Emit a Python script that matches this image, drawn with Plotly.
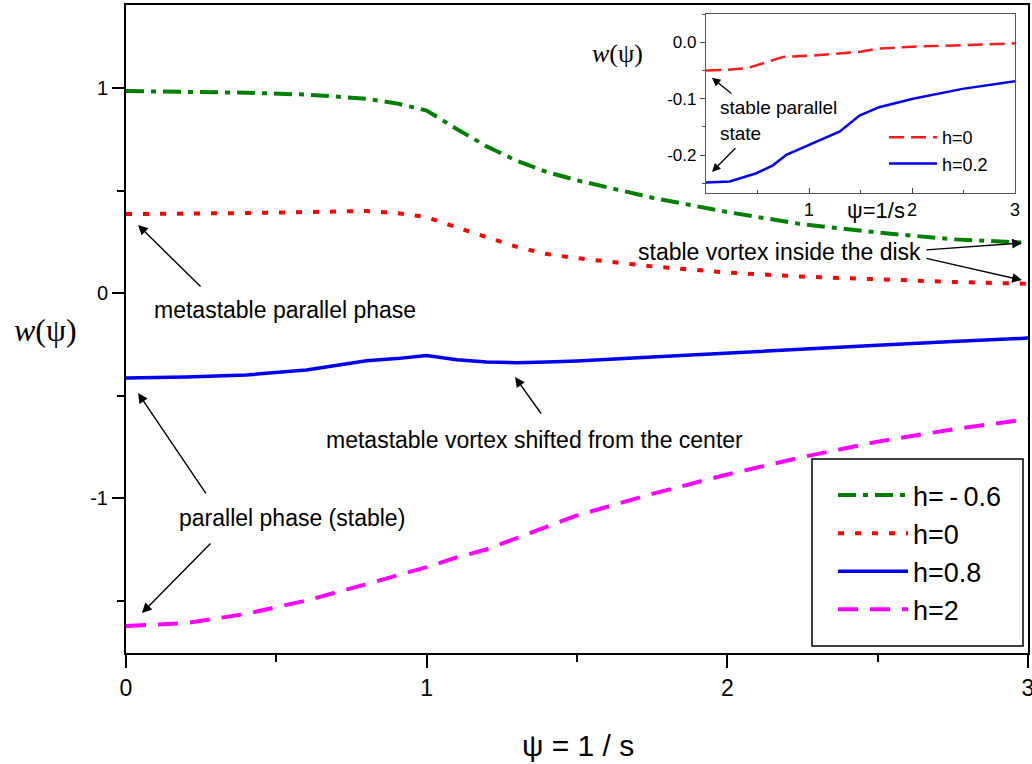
import plotly.graph_objects as go

# ---------------- data ----------------
x_main = [0, 0.2, 0.4, 0.6, 0.8, 0.9, 1.0, 1.1, 1.2, 1.3, 1.4, 1.5, 1.75, 2.0, 2.25, 2.5, 2.75, 3.0]
w_h_m06 = [0.985, 0.983, 0.977, 0.968, 0.948, 0.925, 0.89, 0.80, 0.715, 0.645, 0.59, 0.55, 0.465, 0.395, 0.335, 0.295, 0.262, 0.245]
w_h_0 = [0.385, 0.386, 0.39, 0.395, 0.40, 0.39, 0.37, 0.32, 0.27, 0.225, 0.19, 0.17, 0.13, 0.10, 0.08, 0.065, 0.054, 0.045]
w_h_08 = [-0.415, -0.41, -0.40, -0.375, -0.33, -0.32, -0.305, -0.325, -0.337, -0.34, -0.337, -0.332, -0.312, -0.292, -0.272, -0.255, -0.237, -0.22]
w_h_2 = [-1.624, -1.61, -1.565, -1.50, -1.42, -1.38, -1.337, -1.29, -1.25, -1.195, -1.14, -1.085, -0.98, -0.885, -0.80, -0.725, -0.665, -0.615]

x_in_h0 = [0, 0.2, 0.4, 0.55, 0.75, 1.0, 1.25, 1.5, 1.68, 2.0, 2.5, 3.0]
w_in_h0 = [-0.050, -0.049, -0.046, -0.038, -0.026, -0.024, -0.021, -0.017, -0.011, -0.008, -0.005, -0.002]
x_in_h02 = [0, 0.23, 0.49, 0.65, 0.78, 1.04, 1.30, 1.49, 1.68, 2.01, 2.49, 3.0]
w_in_h02 = [-0.2485, -0.2467, -0.232, -0.218, -0.1995, -0.179, -0.158, -0.13, -0.115, -0.100, -0.0826, -0.069]

main_labels = ["h=\u2009-\u20090.6", "h=0", "h=0.8", "h=2"]
inset_labels = ["h=0", "h=0.2"]
main_ticks = [-1, 0, 1]
main_ticktext = ["-1", "0", "1"]
inset_yticks = [0.0, -0.1, -0.2]
inset_yticktext = ["0.0", "-0.1", "-0.2"]

SANS = "Liberation Sans, Arial, Helvetica, sans-serif"
NARROW = "Liberation Sans Narrow, Arial Narrow, Liberation Sans, sans-serif"
SERIF = "Liberation Serif, Times New Roman, serif"

fig = go.Figure()

fig.add_trace(go.Scatter(x=x_main, y=w_h_m06, mode="lines", name=main_labels[0],
                         line=dict(color="#008000", width=4, dash="18px,7px,5px,7px")))
fig.add_trace(go.Scatter(x=x_main, y=w_h_0, mode="lines", name=main_labels[1],
                         line=dict(color="#ff0000", width=4, dash="6px,11px")))
fig.add_trace(go.Scatter(x=x_main, y=w_h_08, mode="lines", name=main_labels[2],
                         line=dict(color="#0000f0", width=3.5)))
fig.add_trace(go.Scatter(x=x_main, y=w_h_2, mode="lines", name=main_labels[3],
                         line=dict(color="#ff00ff", width=4, dash="20px,12px")))

fig.add_trace(go.Scatter(x=x_in_h0, y=w_in_h0, mode="lines", name=inset_labels[0],
                         xaxis="x2", yaxis="y2", legend="legend2",
                         line=dict(color="#ff1a1a", width=2.5, dash="15px,7px")))
fig.add_trace(go.Scatter(x=x_in_h02, y=w_in_h02, mode="lines", name=inset_labels[1],
                         xaxis="x2", yaxis="y2", legend="legend2",
                         line=dict(color="#0000f0", width=2.5)))

W, H = 1032, 764
ML, MR, MT, MB = 126, 4, 5, 111
PW, PH = W - ML - MR, H - MT - MB


def px(xp):
    return (xp - ML) / PW


def py(yp):
    return (H - MB - yp) / PH


fig.update_layout(
    width=W, height=H,
    margin=dict(l=ML, r=MR, t=MT, b=MB, autoexpand=False),
    paper_bgcolor="white", plot_bgcolor="white",
    font=dict(family=SANS, color="black"),
    xaxis=dict(domain=[0, 1], range=[0, 3], tickvals=[0, 1, 2, 3], automargin=False,
               ticklabeloverflow="allow",
               ticks="outside", ticklen=13, tickwidth=2, tickcolor="black",
               minor=dict(dtick=0.5, tick0=0, ticks="outside", ticklen=7, tickwidth=2, tickcolor="black"),
               showline=True, linewidth=2, linecolor="black", mirror=True,
               showgrid=False, zeroline=False, tickfont=dict(family=NARROW, size=23)),
    yaxis=dict(domain=[0, 1], range=[-1.756, 1.405], tickvals=main_ticks, ticktext=main_ticktext,
               automargin=False,
               ticks="outside", ticklen=12, tickwidth=2, tickcolor="black",
               minor=dict(dtick=0.5, tick0=0, ticks="outside", ticklen=7, tickwidth=2, tickcolor="black"),
               showline=True, linewidth=2, linecolor="black", mirror=True,
               showgrid=False, zeroline=False, tickfont=dict(size=20)),
    xaxis2=dict(domain=[px(706), px(1015)], anchor="y2", range=[0, 3], tickvals=[1, 2, 3],
                automargin=False,
                ticks="inside", ticklen=5, tickwidth=1, tickcolor="#444",
                minor=dict(dtick=0.5, tick0=0, ticks="inside", ticklen=3, tickwidth=1, tickcolor="#444"),
                showline=True, linewidth=1.2, linecolor="#555", mirror=True,
                showgrid=False, zeroline=False, tickfont=dict(size=18)),
    yaxis2=dict(domain=[py(193), py(14)], anchor="x2", range=[-0.267, 0.05],
                tickvals=inset_yticks, ticktext=inset_yticktext, automargin=False,
                ticks="outside", ticklen=5, tickwidth=1, tickcolor="#444",
                minor=dict(dtick=0.05, tick0=0, ticks="outside", ticklen=3, tickwidth=1, tickcolor="#444"),
                showline=True, linewidth=1.2, linecolor="#555", mirror=True,
                showgrid=False, zeroline=False, tickfont=dict(size=17)),
    legend=dict(x=px(833), y=py(471), xanchor="left", yanchor="top",
                bgcolor="rgba(0,0,0,0)", borderwidth=0, itemwidth=70,
                font=dict(size=27), tracegroupgap=0),
    legend2=dict(x=px(884), y=py(119), xanchor="left", yanchor="top",
                 bgcolor="rgba(0,0,0,0)", borderwidth=0, itemwidth=48,
                 font=dict(size=18), tracegroupgap=0),
    showlegend=True,
)

# legend frames
fig.add_shape(type="rect", xref="paper", yref="paper",
              x0=px(812), x1=px(1023), y0=py(646), y1=py(459),
              line=dict(color="black", width=1.5), fillcolor="white", layer="below")
fig.add_shape(type="rect", xref="paper", yref="paper",
              x0=px(877), x1=px(1007), y0=py(180), y1=py(117),
              line=dict(color="black", width=1.5), fillcolor="white", layer="below")

# axis titles
C = dict(xanchor="center", yanchor="middle", showarrow=False)
fig.add_annotation(xref="paper", yref="paper", x=px(45), y=py(330),
                   text="<i>w</i>(\u03c8)", font=dict(family=SERIF, size=32), **C)
fig.add_annotation(xref="paper", yref="paper", x=px(578), y=py(745),
                   text="\u03c8 = 1 / s", font=dict(family=NARROW, size=30), **C)
fig.add_annotation(xref="paper", yref="paper", x=px(617), y=py(53),
                   text="<i>w</i>(\u03c8)", font=dict(family=SERIF, size=26), **C)
fig.add_annotation(xref="paper", yref="paper", x=px(876), y=py(211),
                   text="\u03c8=1/s", font=dict(family=SANS, size=22), **C)

# main text annotations
AF = dict(family=SANS, size=23, color="black")
fig.add_annotation(x=0.529, y=-0.083, text="metastable parallel phase", font=AF, **C)
fig.add_annotation(x=1.36, y=-0.717, text="metastable vortex shifted from the center", font=AF, **C)
fig.add_annotation(x=0.552, y=-1.098, text="parallel phase (stable)", font=AF, **C)
fig.add_annotation(x=2.172, y=0.2, text="stable vortex inside the disk", font=AF, **C)

arrows_main = [
    ((0.253, 0.024), (0.04, 0.332)),
    ((1.384, -0.595), (1.294, -0.41)),
    ((0.269, -0.985), (0.04, -0.488)),
    ((0.286, -1.215), (0.053, -1.561)),
    ((2.657, 0.21), (2.98, 0.244)),
    ((2.657, 0.171), (2.98, 0.063)),
]
for (tx, ty), (hx, hy) in arrows_main:
    fig.add_annotation(x=hx, y=hy, ax=tx, ay=ty, xref="x", yref="y", axref="x", ayref="y",
                       text="", showarrow=True, arrowhead=2, arrowsize=1.4, arrowwidth=1.4,
                       arrowcolor="black")

# inset annotations
IF = dict(family=SANS, size=19, color="black")
fig.add_annotation(x=0.117, y=-0.115, xref="x2", yref="y2", text="stable parallel",
                   showarrow=False, xanchor="left", yanchor="middle", font=IF)
fig.add_annotation(x=0.117, y=-0.161, xref="x2", yref="y2", text="state",
                   showarrow=False, xanchor="left", yanchor="middle", font=IF)
arrows_inset = [
    ((0.262, -0.093), (0.058, -0.063)),
    ((0.30, -0.185), (0.058, -0.2296)),
]
for (tx, ty), (hx, hy) in arrows_inset:
    fig.add_annotation(x=hx, y=hy, ax=tx, ay=ty, xref="x2", yref="y2", axref="x2", ayref="y2",
                       text="", showarrow=True, arrowhead=2, arrowsize=1.3, arrowwidth=1.3,
                       arrowcolor="black")

fig.write_html("out.html", config={"displayModeBar": False},
               post_script="document.body.style.margin='0';document.body.style.overflow='hidden';")
